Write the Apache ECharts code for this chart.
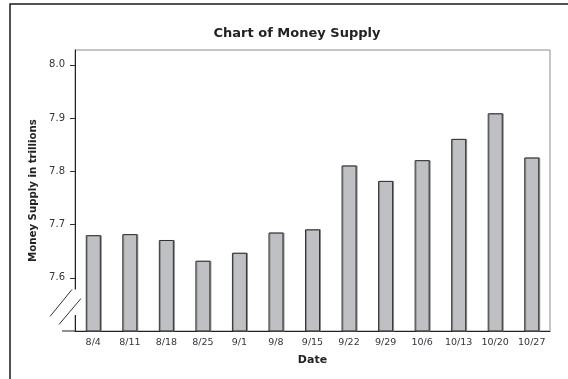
<!DOCTYPE html>
<html>
<head>
<meta charset="utf-8">
<script src="https://cdn.jsdelivr.net/npm/echarts@6/dist/echarts.min.js"></script>
<style>
  html, body { margin: 0; padding: 0; background: #fff; }
  #chart { width: 568px; height: 379px; }
</style>
</head>
<body>
<div id="chart"></div>
<script>
// Weekly money supply, trillions of dollars
const dates = ['8/4', '8/11', '8/18', '8/25', '9/1', '9/8', '9/15', '9/22', '9/29', '10/6', '10/13', '10/20', '10/27'];
const supply = [7.680, 7.682, 7.671, 7.632, 7.647, 7.685, 7.691, 7.811, 7.782, 7.821, 7.861, 7.909, 7.826];
const yTicks = [7.6, 7.7, 7.8, 7.9, 8.0];

const grid = { left: 75, right: 18, top: 50, bottom: 48 };
const labelFont = 'Tahoma, "DejaVu Sans", sans-serif';
const textColor = '#34343c';

const chart = echarts.init(document.getElementById('chart'), null, { renderer: 'canvas' });

chart.setOption({
  animation: false,
  backgroundColor: '#ffffff',
  title: {
    text: 'Chart of Money Supply',
    left: 292,
    textAlign: 'center',
    top: 22,
    textStyle: { fontFamily: '"DejaVu Sans", sans-serif', fontWeight: 'bold', fontSize: 13, color: '#222' }
  },
  grid: {
    left: grid.left, right: grid.right, top: grid.top, bottom: grid.bottom,
    show: true, borderColor: '#8c8c8c', borderWidth: 1, backgroundColor: 'transparent'
  },
  xAxis: {
    type: 'category',
    data: dates,
    boundaryGap: true,
    name: 'Date',
    nameLocation: 'middle',
    nameGap: 24,
    nameTextStyle: { fontFamily: '"DejaVu Sans", sans-serif', fontWeight: 'bold', fontSize: 11, color: '#222' },
    axisLine: { lineStyle: { color: '#222', width: 1 } },
    axisTick: { alignWithLabel: true, length: 5, lineStyle: { color: '#333' } },
    axisLabel: { margin: 7, fontFamily: labelFont, fontSize: 9.5, color: textColor },
    splitLine: { show: false }
  },
  yAxis: {
    type: 'value',
    min: 7.5,
    max: 8.028,
    name: 'Money Supply in trillions',
    nameLocation: 'middle',
    nameGap: 37,
    nameTextStyle: { fontFamily: '"DejaVu Sans", sans-serif', fontWeight: 'bold', fontSize: 10.2, color: '#222' },
    axisLine: { show: true, lineStyle: { color: '#222', width: 1 } },
    axisTick: { show: true, length: 5, customValues: yTicks, lineStyle: { color: '#333' } },
    axisLabel: {
      margin: 10, fontFamily: labelFont, fontSize: 10, color: textColor,
      customValues: yTicks,
      formatter: v => v.toFixed(1)
    },
    splitLine: { show: false }
  },
  series: [{
    type: 'bar',
    data: supply,
    barWidth: 15,
    itemStyle: {
      color: '#bfc0c4',
      borderColor: '#333',
      borderWidth: 1,
      shadowColor: '#8a8a8a',
      shadowOffsetX: 1,
      shadowBlur: 0
    },
    emphasis: { disabled: true }
  }]
});

// Axis break marks, outer frame and the stub of the x axis left of the y axis
const axisX = grid.left;
const yAt = v => chart.convertToPixel({ yAxisIndex: 0 }, v);
const yBase = yAt(7.5);
const yGapTop = yAt(7.578);
const yGapBottom = yAt(7.53);

chart.setOption({
  graphic: [
    {
      type: 'polyline', silent: true,
      shape: { points: [[10, 379], [10, 4], [568, 4]] },
      style: { stroke: '#1a1a1a', lineWidth: 1.5, fill: null }
    },
    {
      type: 'rect', silent: true, z: 100,
      shape: { x: axisX - 2, y: yGapTop, width: 4, height: yGapBottom - yGapTop },
      style: { fill: '#fff' }
    },
    {
      type: 'line', silent: true, z: 101,
      shape: { x1: axisX - 25, y1: yGapTop + 27, x2: axisX - 3, y2: yGapTop },
      style: { stroke: '#333', lineWidth: 1 }
    },
    {
      type: 'line', silent: true, z: 101,
      shape: { x1: axisX - 16, y1: yGapTop + 35, x2: axisX + 6, y2: yGapTop + 9 },
      style: { stroke: '#333', lineWidth: 1 }
    },
    {
      type: 'line', silent: true, z: 101,
      shape: { x1: axisX - 13, y1: yBase, x2: axisX, y2: yBase },
      style: { stroke: '#222', lineWidth: 1 }
    }
  ]
});
</script>
</body>
</html>
